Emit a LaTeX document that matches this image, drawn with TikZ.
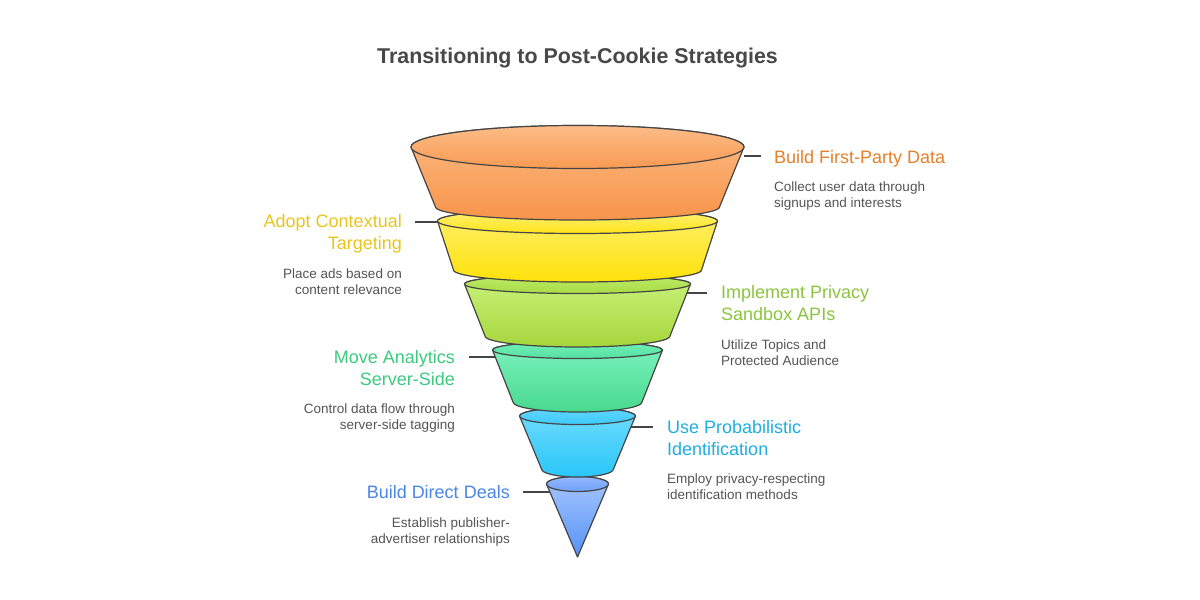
\documentclass[tikz,border=0pt]{standalone}
\usepackage{fontspec}
\setmainfont{Liberation Sans}
\definecolor{edgegray}{HTML}{454545}
\definecolor{titlegray}{HTML}{484848}
\definecolor{descgray}{HTML}{555555}
\definecolor{oA}{HTML}{FDBB84}\definecolor{oB}{HTML}{F7944A}
\definecolor{oC}{HTML}{FDBD88}\definecolor{oD}{HTML}{F89A52}
\definecolor{yA}{HTML}{FFF070}\definecolor{yB}{HTML}{FFE20A}
\definecolor{yC}{HTML}{FFF27E}\definecolor{yD}{HTML}{FFE418}
\definecolor{gA}{HTML}{C9F37C}\definecolor{gB}{HTML}{A6D63C}
\definecolor{gC}{HTML}{BCEB66}\definecolor{gD}{HTML}{A9DC46}
\definecolor{tA}{HTML}{7DF3C0}\definecolor{tB}{HTML}{48D98E}
\definecolor{tC}{HTML}{72EFB9}\definecolor{tD}{HTML}{55E0A0}
\definecolor{bA}{HTML}{72DCFF}\definecolor{bB}{HTML}{29C6F7}
\definecolor{bC}{HTML}{62D6FF}\definecolor{bD}{HTML}{3DCAFA}
\definecolor{cA}{HTML}{A8C6FF}\definecolor{cB}{HTML}{5592F6}
\definecolor{cC}{HTML}{94B8FF}\definecolor{cD}{HTML}{6EA1F8}
\definecolor{lO}{HTML}{E5802C}
\definecolor{lY}{HTML}{E8C51C}
\definecolor{lG}{HTML}{8CC43E}
\definecolor{lT}{HTML}{3CCB7E}
\definecolor{lB}{HTML}{1FAEE0}
\definecolor{lC}{HTML}{4A86E8}
\tikzset{
  edge/.style={draw=edgegray, line width=1.2pt, line join=round},
  conn/.style={draw=edgegray, line width=1.2pt},
  head/.style={inner sep=0pt, font=\fontsize{18}{22}\selectfont},
  desc/.style={inner sep=0pt, font=\fontsize{13.5}{16}\selectfont, text=descgray},
  segO/.style={top color=oA, bottom color=oB}, topO/.style={top color=oC, bottom color=oD},
  segY/.style={top color=yA, bottom color=yB}, topY/.style={top color=yC, bottom color=yD},
  segG/.style={top color=gA, bottom color=gB}, topG/.style={top color=gC, bottom color=gD},
  segT/.style={top color=tA, bottom color=tB}, topT/.style={top color=tC, bottom color=tD},
  segB/.style={top color=bA, bottom color=bB}, topB/.style={top color=bC, bottom color=bD},
  segC/.style={top color=cA, bottom color=cB}, topC/.style={top color=cC, bottom color=cD},
}
% cx ty a b by c d bodystyle topstyle
\newcommand\funnelseg[9]{%
  \path[edge, #8] (#1-#3,-#2) -- (#1-#6,-#5)
    arc[start angle=180, end angle=360, x radius=#6pt, y radius=#7pt]
    -- (#1+#3,-#2)
    arc[start angle=0, end angle=180, x radius=#3pt, y radius=#4pt] -- cycle;
  \path[edge, #9] (#1,-#2) ellipse[x radius=#3pt, y radius=#4pt];
}
\begin{document}
\begin{tikzpicture}[x=1pt, y=1pt]
\useasboundingbox (0,0) rectangle (1200,-600);
\fill[white] (0,0) rectangle (1200,-600);

\node[inner sep=0pt, font=\fontsize{21.4}{25}\selectfont\bfseries, text=titlegray] (title) at (577.5,-58) {Transitioning to Post-Cookie Strategies};

% funnel, bottom to top
\path[edge, segC] (546.5,-484) -- (577.5,-557) -- (608.5,-484)
   arc[start angle=0, end angle=180, x radius=31pt, y radius=7.5pt] -- cycle;
\path[edge, topC] (577.5,-484) ellipse[x radius=31pt, y radius=7.5pt];
\funnelseg{577.5}{416}{58}{8.5}{469}{36}{8}{segB}{topB}
\funnelseg{577.5}{350}{85}{8.5}{402}{64.5}{10}{segT}{topT}
\funnelseg{577.5}{284}{113}{9.5}{336}{92.5}{11}{segG}{topG}
\funnelseg{577.5}{221}{140}{12.5}{270}{124}{12}{segY}{topY}
\funnelseg{577.5}{147}{166.5}{21.5}{207}{142}{13}{segO}{topO}

% connector coordinates
\coordinate (e1) at (744,-156);  \coordinate (f1) at (761,-156);
\coordinate (e2) at (438,-222);  \coordinate (f2) at (415,-222);
\coordinate (e3) at (687,-293);  \coordinate (f3) at (707,-293);
\coordinate (e4) at (495,-357);  \coordinate (f4) at (469,-357);
\coordinate (e5) at (631,-427);  \coordinate (f5) at (653,-427);
\coordinate (e6) at (550,-492);  \coordinate (f6) at (523,-492);
\draw[conn] (e1) -- (f1);
\draw[conn] (e2) -- (f2);
\draw[conn] (e3) -- (f3);
\draw[conn] (e4) -- (f4);
\draw[conn] (e5) -- (f5);
\draw[conn] (e6) -- (f6);

% labels (base anchor = baseline of the last line)
\node[head, text=lO, anchor=base west, align=left] (h1) at (774,-163) {Build First-Party Data};
\node[desc, anchor=base west, align=left] (d1) at (774,-207) {Collect user data through\\signups and interests};

\node[head, text=lY, anchor=base east, align=right] (h2) at (402,-249) {Adopt Contextual\\Targeting};
\node[desc, anchor=base east, align=right] (d2) at (402,-294) {Place ads based on\\content relevance};

\node[head, text=lG, anchor=base west, align=left] (h3) at (721,-320) {Implement Privacy\\Sandbox APIs};
\node[desc, anchor=base west, align=left] (d3) at (721,-365) {Utilize Topics and\\Protected Audience};

\node[head, text=lT, anchor=base east, align=right] (h4) at (455,-385) {Move Analytics\\Server-Side};
\node[desc, anchor=base east, align=right] (d4) at (455,-429) {Control data flow through\\server-side tagging};

\node[head, text=lB, anchor=base west, align=left] (h5) at (667,-455) {Use Probabilistic\\Identification};
\node[desc, anchor=base west, align=left] (d5) at (667,-499) {Employ privacy-respecting\\identification methods};

\node[head, text=lC, anchor=base east, align=right] (h6) at (510,-498) {Build Direct Deals};
\node[desc, anchor=base east, align=right] (d6) at (510,-543) {Establish publisher-\\advertiser relationships};
\end{tikzpicture}
\end{document}
